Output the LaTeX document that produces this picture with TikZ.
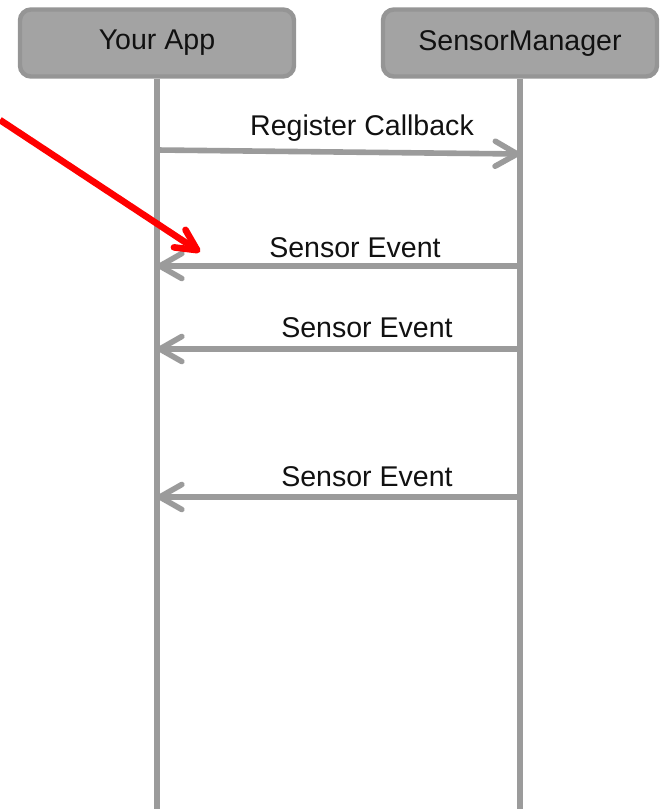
\documentclass[tikz,border=0pt]{standalone}
\usepackage{fontspec}
\setmainfont{Liberation Sans}
\usetikzlibrary{arrows.meta}
\definecolor{boxfill}{HTML}{A3A3A3}
\definecolor{boxline}{HTML}{959595}
\definecolor{lifegray}{HTML}{9B9B9B}
\definecolor{txtdark}{HTML}{111111}
\tikzset{
  actor/.style={draw=boxline, fill=boxfill, line width=1.1mm, rounded corners=2.75mm,
    minimum width=68.5mm, minimum height=16.75mm, inner sep=0pt, text=txtdark},
  msg/.style={anchor=base, inner sep=0pt, text=txtdark},
  life/.style={draw=lifegray, line width=1.4mm},
  call/.style={draw=lifegray, line width=1.4mm, line cap=round,
    -{Straight Barb[length=5.5mm, width=6.25mm, round]}},
  hint/.style={draw=red, line width=1.65mm,
    -{Straight Barb[length=5.25mm, width=5.25mm, round]}}
}
\begin{document}
\begin{tikzpicture}[x=0.025cm, y=-0.025cm, font=\fontsize{20.3pt}{24pt}\selectfont]
      \useasboundingbox (0,0) rectangle (660,809);
      \draw
        (157,43) node[actor] (app){Your App}
        (520,43) node[actor] (mgr){SensorManager};
      \draw
        (362,135) node[msg] (l1){Register Callback}
        (355,257) node[msg] (l2){Sensor Event}
        (367,337) node[msg] (l3){Sensor Event}
        (367,486) node[msg] (l4){Sensor Event};
      \coordinate (append) at (157,809);
      \coordinate (mgrend) at (520,809);
      \coordinate (a1) at (157,150);
      \coordinate (m1) at (520,154);
      \coordinate (a2) at (157,266);
      \coordinate (m2) at (520,266);
      \coordinate (a3) at (157,349);
      \coordinate (m3) at (520,349);
      \coordinate (a4) at (157,497);
      \coordinate (m4) at (520,497);
      \coordinate (p0) at (0,120);
      \coordinate (p1) at (200,252);
      \begin{scope}[life]
        \draw (app.south) to (append);
        \draw (mgr.south) to (mgrend);
      \end{scope}
      \begin{scope}[call]
        \draw (a1) to (m1);
        \draw (m2) to (a2);
        \draw (m3) to (a3);
        \draw (m4) to (a4);
      \end{scope}
      \draw[hint] (p0) to (p1);
    \end{tikzpicture}
\end{document}
